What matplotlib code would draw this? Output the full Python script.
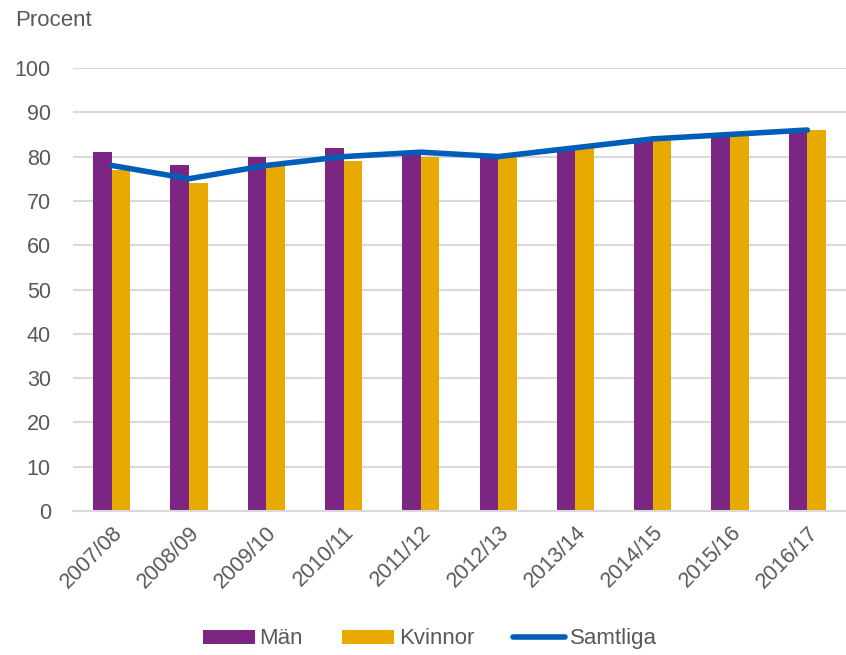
import numpy as np
import matplotlib.pyplot as plt

plt.rcParams['font.family'] = ['Liberation Sans', 'DejaVu Sans']

years = ["2007/08", "2008/09", "2009/10", "2010/11", "2011/12",
         "2012/13", "2013/14", "2014/15", "2015/16", "2016/17"]
man = [81, 78, 80, 82, 81, 80, 82, 84, 85, 86]
kvinnor = [77, 74, 78, 79, 80, 80, 82, 84, 85, 86]
samtliga = [78, 75, 78, 80, 81, 80, 82, 84, 85, 86]

txt = "#595959"
fig = plt.figure(figsize=(8.46, 6.55), dpi=100)
ax = fig.add_axes([0.0863, 0.2198, 0.9137, 0.6764])

x = np.arange(len(years))
w = 0.24
b1 = ax.bar(x - w / 2, man, w, color="#7B2682", label="Män", zorder=2)
b2 = ax.bar(x + w / 2, kvinnor, w, color="#E8A900", label="Kvinnor", zorder=2)
l1, = ax.plot(x, samtliga, color="#005EB8", lw=4, label="Samtliga", zorder=3,
              solid_capstyle="round")

ax.set_ylim(0, 100)
ax.set_xlim(-0.5, len(years) - 0.5)
ax.set_yticks(range(0, 101, 10))
ax.yaxis.grid(True, color="#D9D9D9", lw=1.5, zorder=0)
ax.set_xticks(x)
ax.set_xticklabels(years, rotation=45, ha="right", rotation_mode="anchor")
ax.tick_params(axis="both", length=0, labelsize=15.5, labelcolor=txt)
ax.tick_params(axis="x", pad=8)
ax.tick_params(axis="y", pad=16)
for s in ["top", "right", "left"]:
    ax.spines[s].set_visible(False)
ax.spines["bottom"].set_color("#D9D9D9")
ax.spines["bottom"].set_linewidth(1.5)

fig.text(0.018, 0.985, "Procent", fontsize=16, color=txt, va="top")

leg = fig.legend([b1, b2, l1], ["Män", "Kvinnor", "Samtliga"],
                 loc="lower center", bbox_to_anchor=(0.508, -0.022), ncol=3,
                 frameon=False, fontsize=16, handlelength=2.35, handleheight=0.6,
                 columnspacing=1.75, handletextpad=0.2)
for t in leg.get_texts():
    t.set_color(txt)

fig.savefig("out.png", dpi=100)
